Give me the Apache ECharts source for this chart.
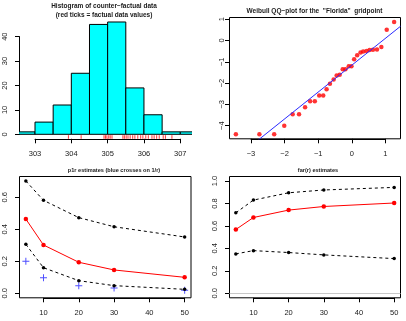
<!DOCTYPE html>
<html>
<head>
<meta charset="utf-8">
<script src="https://cdn.jsdelivr.net/npm/echarts@6/dist/echarts.min.js"></script>
<style>
html, body { margin: 0; padding: 0; background: #fff; }
#main { width: 406px; height: 321px; }
</style>
</head>
<body>
<div id="main"></div>
<script>
// Histogram of counter-factual data
var histBreaks = [302.5, 303, 303.5, 304, 304.5, 305, 305.5, 306, 306.5, 307, 307.5];
var histCounts = [1, 5, 12, 25, 45, 46, 19, 8, 1, 1];
// red rug ticks = factual data values
var factualValues = [303.92, 304.27, 304.90, 304.94, 304.98, 305.03, 305.07, 305.12, 305.42,
    305.46, 305.51, 305.56, 305.62, 305.69, 305.75, 305.83, 305.91, 305.97, 306.05, 306.12,
    306.22, 306.28, 306.35, 306.42, 306.53, 306.59, 306.77];

// Weibull QQ-plot
var qqTheoretical = [-3.45, -2.75, -2.31, -2.01, -1.76, -1.57, -1.39, -1.24, -1.10, -0.97, -0.85,
    -0.75, -0.65, -0.54, -0.45, -0.36, -0.27, -0.19, -0.09, -0.01, 0.07, 0.16, 0.26, 0.34,
    0.44, 0.53, 0.63, 0.75, 0.88, 1.04, 1.26];
var qqObserved = [-4.41, -4.41, -4.41, -4.01, -3.47, -3.47, -3.14, -2.86, -2.86, -2.58, -2.58,
    -2.29, -2.03, -1.83, -1.64, -1.61, -1.35, -1.35, -1.21, -1.21, -0.88, -0.69, -0.57, -0.52,
    -0.50, -0.45, -0.43, -0.42, -0.31, 0.51, 0.87];
var qqIntercept = -1.162;
var qqSlope = 1.262;

// p1r and far(r) estimates
var returnPeriods = [5, 10, 20, 30, 50];
var p1rUpper = [0.702, 0.581, 0.473, 0.416, 0.352];
var p1rEst = [0.464, 0.302, 0.194, 0.146, 0.100];
var p1rLower = [0.306, 0.160, 0.079, 0.048, 0.025];
var p1rInverse = [0.200, 0.098, 0.048, 0.033, 0.019];
var farUpper = [0.717, 0.830, 0.895, 0.920, 0.943];
var farEst = [0.568, 0.675, 0.741, 0.773, 0.804];
var farLower = [0.351, 0.380, 0.363, 0.342, 0.309];

// tick labels
var histXTicks = [303, 304, 305, 306, 307];
var histYTicks = [0, 10, 20, 30, 40];
var qqXTicks = [-3, -2, -1, 0, 1];
var qqYTicks = [-4, -3, -2, -1, 0, 1];
var rpXTicks = [10, 20, 30, 40, 50];
var p1rYTicks = [0, 0.2, 0.4, 0.6];
var farYTicks = [0, 0.2, 0.4, 0.6, 0.8, 1.0];

var FONT = "'Liberation Sans', Arial, Helvetica, sans-serif";
var TXT = '#1a1a1a';

// plot regions (pixels) and user coordinate ranges
var panels = [
    {l: 19.5, r: 191, t: 17.5, b: 138.8, x: [302.573, 307.295], y: [-1.84, 47.84], box: false},
    {l: 229.5, r: 400.5, t: 17.5, b: 138.8, x: [-3.64, 1.45], y: [-4.62, 1.08], box: true},
    {l: 19.5, r: 191, t: 176.5, b: 297.8, x: [3.2, 51.8], y: [-0.028, 0.730], box: true},
    {l: 229.5, r: 400.5, t: 176.5, b: 297.8, x: [3.2, 51.8], y: [-0.04, 1.04], box: true}
];

function pxX(p, v){ return p.l + (v - p.x[0]) / (p.x[1] - p.x[0]) * (p.r - p.l); }
function pxY(p, v){ return p.b - (v - p.y[0]) / (p.y[1] - p.y[0]) * (p.b - p.t); }

function minusFmt(dec){
    return function(v){
        var s = dec ? v.toFixed(dec) : String(Math.round(v));
        return s.replace('-', '\u2212');
    };
}

var grids = [], xAxes = [], yAxes = [];

//Each panel: a data grid, an R style x axis grid and an R style y axis grid.
function addPanel(p, xt, yt, fx, fy, yMargin){
    var gi = grids.length;
    grids.push({left: p.l, top: p.t, width: p.r - p.l, height: p.b - p.t,
        show: p.box, borderColor: '#000', borderWidth: 1, backgroundColor: 'transparent'});
    xAxes.push({gridIndex: gi, type: 'value', min: p.x[0], max: p.x[1], show: false});
    yAxes.push({gridIndex: gi, type: 'value', min: p.y[0], max: p.y[1], show: false});

    var x0 = pxX(p, xt[0]), x1 = pxX(p, xt[xt.length - 1]);
    grids.push({left: x0, top: p.b - 4, width: x1 - x0, height: 4});
    xAxes.push({gridIndex: gi + 1, type: 'value', position: 'bottom',
        min: xt[0], max: xt[xt.length - 1], interval: xt[1] - xt[0],
        axisLine: {show: true, lineStyle: {color: '#000', width: 1}},
        axisTick: {show: true, length: 4.5, lineStyle: {color: '#000', width: 1}},
        axisLabel: {margin: 11, fontSize: 7.5, color: TXT, fontFamily: FONT, formatter: fx},
        splitLine: {show: false}});
    yAxes.push({gridIndex: gi + 1, type: 'value', show: false});

    var y0 = pxY(p, yt[0]), y1 = pxY(p, yt[yt.length - 1]);
    grids.push({left: p.l, top: y1, width: 4, height: y0 - y1});
    xAxes.push({gridIndex: gi + 2, type: 'value', show: false});
    yAxes.push({gridIndex: gi + 2, type: 'value', position: 'left',
        min: yt[0], max: yt[yt.length - 1], interval: yt[1] - yt[0],
        axisLine: {show: true, lineStyle: {color: '#000', width: 1}},
        axisTick: {show: true, length: 4.5, lineStyle: {color: '#000', width: 1}},
        axisLabel: {margin: yMargin, rotate: 90, fontSize: 7.5, color: TXT, fontFamily: FONT, formatter: fy},
        splitLine: {show: false}});
    return gi;
}

var g1 = addPanel(panels[0], histXTicks, histYTicks, minusFmt(0), minusFmt(0), 10.5);
var g2 = addPanel(panels[1], qqXTicks, qqYTicks, minusFmt(0), minusFmt(0), 4);
var g3 = addPanel(panels[2], rpXTicks, p1rYTicks, minusFmt(0), minusFmt(1), 10.5);
var g4 = addPanel(panels[3], rpXTicks, farYTicks, minusFmt(0), minusFmt(1), 10.5);

var histData = histCounts.map(function(c, i){ return [histBreaks[i], histBreaks[i + 1], c]; });
var qqData = qqTheoretical.map(function(x, i){ return [x, qqObserved[i]]; });
var qqX = panels[1].x;
var qqLine = [[qqX[0], qqIntercept + qqSlope * qqX[0]], [qqX[1], qqIntercept + qqSlope * qqX[1]]];

function zip(xs, ys){ return xs.map(function(x, i){ return [x, ys[i]]; }); }

function dashed(gi, ys){
    return {type: 'line', xAxisIndex: gi, yAxisIndex: gi, data: zip(returnPeriods, ys),
        symbol: 'circle', symbolSize: 3.5, itemStyle: {color: '#000'},
        lineStyle: {color: '#000', width: 1, type: [3, 3]}};
}
function redLine(gi, ys){
    return {type: 'line', xAxisIndex: gi, yAxisIndex: gi, data: zip(returnPeriods, ys),
        symbol: 'circle', symbolSize: 4.5, itemStyle: {color: '#ff0000'},
        lineStyle: {color: '#ff0000', width: 1}};
}

var titleStyle = {fontFamily: FONT, fontWeight: 'bold', color: TXT};

var option = {
    animation: false,
    backgroundColor: '#fff',
    title: [
        {text: 'Histogram of counter\u2212factual data\n(red ticks = factual data values)',
            left: 104, top: 1.5, textAlign: 'center', padding: 0,
            textStyle: Object.assign({fontSize: 6.5, lineHeight: 9}, titleStyle)},
        {text: 'Weibull QQ\u2212plot for the  "Florida"  gridpoint',
            left: 314.5, top: 6.5, textAlign: 'center', padding: 0,
            textStyle: Object.assign({fontSize: 6.5, lineHeight: 9}, titleStyle)},
        {text: 'p1r estimates (blue crosses on 1/r)',
            left: 114, top: 166.2, textAlign: 'center', padding: 0,
            textStyle: Object.assign({fontSize: 5.6, lineHeight: 9}, titleStyle)},
        {text: 'far(r) estimates',
            left: 318, top: 165.5, textAlign: 'center', padding: 0,
            textStyle: Object.assign({fontSize: 5.6, lineHeight: 9}, titleStyle)}
    ],
    grid: grids,
    xAxis: xAxes,
    yAxis: yAxes,
    series: [
        {type: 'custom', xAxisIndex: g1, yAxisIndex: g1, data: histData, clip: true,
            renderItem: function(params, api){
                var a = api.coord([api.value(0), 0]);
                var b = api.coord([api.value(1), api.value(2)]);
                return {type: 'rect', shape: {x: a[0], y: b[1], width: b[0] - a[0], height: a[1] - b[1]},
                    style: {fill: '#00ffff', stroke: '#000', lineWidth: 1}};
            }},
        {type: 'custom', xAxisIndex: g1, yAxisIndex: g1, data: factualValues,
            renderItem: function(params, api){
                var a = api.coord([api.value(0), panels[0].y[0]]);
                return {type: 'line', shape: {x1: a[0], y1: a[1], x2: a[0], y2: a[1] - 3.6},
                    style: {stroke: '#ff0000', lineWidth: 0.8}};
            }},
        {type: 'scatter', xAxisIndex: g2, yAxisIndex: g2, data: qqData,
            symbol: 'circle', symbolSize: 4.5, itemStyle: {color: '#ff0000'}},
        {type: 'line', xAxisIndex: g2, yAxisIndex: g2, data: qqLine, clip: true,
            symbol: 'none', lineStyle: {color: '#2a2aff', width: 1}},
        dashed(g3, p1rUpper),
        redLine(g3, p1rEst),
        dashed(g3, p1rLower),
        {type: 'scatter', xAxisIndex: g3, yAxisIndex: g3, data: zip(returnPeriods, p1rInverse),
            symbol: 'path://M4.3,0h1.4v10h-1.4zM0,4.3h10v1.4h-10z', symbolSize: 7,
            itemStyle: {color: '#2020ff'}},
        Object.assign(dashed(g4, farLower), {markLine: {silent: true, symbol: 'none',
            label: {show: false}, lineStyle: {color: '#c8c8c8', width: 1, type: 'solid'},
            data: [{yAxis: 0}]}}),
        redLine(g4, farEst),
        dashed(g4, farUpper)
    ]
};

var chart = echarts.init(document.getElementById('main'));
chart.setOption(option);
</script>
</body>
</html>
